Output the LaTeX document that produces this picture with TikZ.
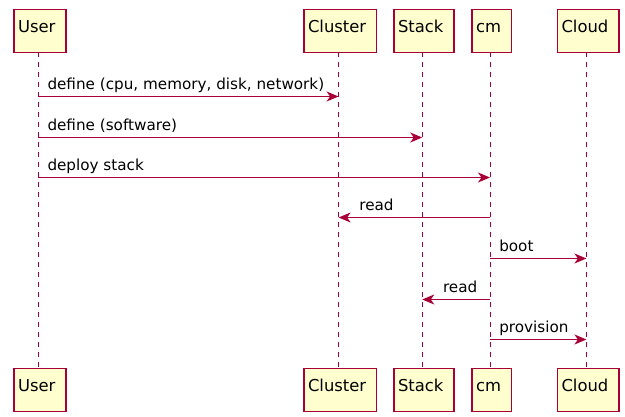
\documentclass[tikz,border=0pt]{standalone}
\usepackage{fontspec}
\setmainfont{DejaVu Sans}
\usepackage{tikz}
\usetikzlibrary{positioning,arrows.meta,calc}
\definecolor{rosu}{HTML}{A80036}
\definecolor{crem}{HTML}{FEFECE}
\tikzset{
  actor/.style    = {draw=rosu, fill=crem, line width=1.5pt, align=left,
                     inner xsep=4pt, inner ysep=0pt, outer sep=0pt,
                     text height=22.7pt, text depth=20.3pt,
                     font=\fontsize{16.4}{20}\selectfont},
  viata/.style    = {color=rosu, line width=1pt, dash pattern=on 5pt off 5pt},
  mesaj/.style    = {color=rosu, line width=1.5pt,
                     -{Stealth[length=12pt, width=10pt, inset=3.5pt]}},
  eticheta/.style = {anchor=base west, inner sep=0pt, yshift=6.5pt, text=black,
                     font=\fontsize{15.2}{18}\selectfont}
}

\begin{document}
\begin{tikzpicture}[x=1pt, y=-1pt]
        \useasboundingbox (0,0) rectangle (625,417);
        \node[actor, text width=44pt, anchor=north west] (user) at (14,9.5) {User};
        \node[actor, text width=64.7pt, right=238pt of user] (cluster) {Cluster};
        \node[actor, text width=52pt, right=17.3pt of cluster] (stack) {Stack};
        \node[actor, text width=31.5pt, right=18pt of stack] (cm) {cm};
        \node[actor, text width=53.4pt, right=46pt of cm] (cloud) {Cloud};

        \node[actor, text width=44pt, below=316pt of user] (user-jos) {User};
        \node[actor, text width=64.7pt, below=316pt of cluster] (cluster-jos) {Cluster};
        \node[actor, text width=52pt, below=316pt of stack] (stack-jos) {Stack};
        \node[actor, text width=31.5pt, below=316pt of cm] (cm-jos) {cm};
        \node[actor, text width=53.4pt, below=316pt of cloud] (cloud-jos) {Cloud};

        % liniile de viata
        \foreach \p in {user,cluster,stack,cm,cloud} {
            \coordinate (v-\p) at ($(\p.south)+(-1.75,0)$);
            \draw[viata] (v-\p) -- ($(\p-jos.north)+(-1.75,0)$);
        }

        \draw[mesaj] ($(v-user)+(0,44)$) -- node[eticheta, pos=0, xshift=8.5pt]
            {define (cpu, memory, disk, network)} ($(v-cluster)+(0,44)$);
        \draw[mesaj] ($(v-user)+(0,85)$) -- node[eticheta, pos=0, xshift=8.5pt]
            {define (software)} ($(v-stack)+(0,85)$);
        \draw[mesaj] ($(v-user)+(0,125)$) -- node[eticheta, pos=0, xshift=8.5pt]
            {deploy stack} ($(v-cm)+(0,125)$);
        \draw[mesaj] ($(v-cm)+(0,165)$) -- node[eticheta, pos=1, xshift=20pt]
            {read} ($(v-cluster)+(0,165)$);
        \draw[mesaj] ($(v-cm)+(0,206)$) -- node[eticheta, pos=0, xshift=8.5pt]
            {boot} ($(v-cloud)+(0,206)$);
        \draw[mesaj] ($(v-cm)+(0,247)$) -- node[eticheta, pos=1, xshift=20pt]
            {read} ($(v-stack)+(0,247)$);
        \draw[mesaj] ($(v-cm)+(0,287)$) -- node[eticheta, pos=0, xshift=8.5pt]
            {provision} ($(v-cloud)+(0,287)$);
    \end{tikzpicture}
\end{document}
